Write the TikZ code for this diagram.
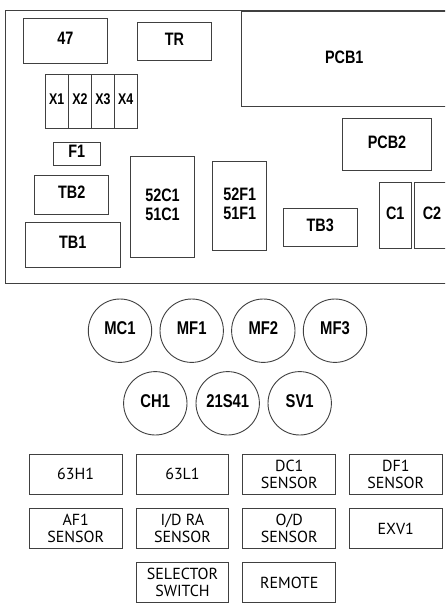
\documentclass[tikz,border=0pt]{standalone}
\usepackage{fontspec}
\newfontfamily\lsbold{Liberation Sans Bold}
\newfontfamily\ptsans{PT Sans}
\newcommand\bt[2][18]{\scalebox{0.8}[1]{\lsbold\fontsize{#1}{19}\selectfont\begin{tabular}{@{}c@{}}#2\end{tabular}}}
\begin{document}
\begin{tikzpicture}[x=1pt,y=-1pt,
  line/.style={draw=black!75,line width=0.9pt},
  box/.style={line,rectangle,inner sep=0pt,align=center},
  xbox/.style={box,minimum width=23,minimum height=54},
  motor/.style={line,circle,minimum size=63.4,inner sep=0pt},
  sbox/.style={line,rectangle,minimum width=92.7,minimum height=40,inner sep=0pt,align=center,font=\ptsans\fontsize{16}{16.5}\selectfont}]
\useasboundingbox (0,0) rectangle (445,608);
\clip (0,0) rectangle (445,608);
\fill[white] (0,0) rectangle (445,608);
% outer enclosure
\draw[line] (470,10) -- (5.5,10) -- (5.5,283) -- (470,283);
% top components
\node[box,minimum width=84.4,minimum height=45] (k47) at (65.5,40.8) {\bt{47}};
\node[box,minimum width=73.6,minimum height=38.4] (tr) at (174.5,41.5) {\bt{TR}};
\node[box,minimum width=205.3,minimum height=95] (pcb1) at (344.3,59.2) {\bt{PCB1}};
\node[xbox] (x1) at (56.8,101) {\bt[15.5]{X1}};
\node[xbox] (x2) at (80,101) {\bt[15.5]{X2}};
\node[xbox] (x3) at (103,101) {\bt[15.5]{X3}};
\node[xbox] (x4) at (125.8,101) {\bt[15.5]{X4}};
\node[box,minimum width=47,minimum height=22.6] (f1) at (76.8,154) {\bt{F1}};
\node[box,minimum width=74,minimum height=38.6] (tb2) at (71.7,195) {\bt{TB2}};
\node[box,minimum width=94.7,minimum height=45.4] (tb1) at (72.7,245) {\bt{TB1}};
\node[box,minimum width=63.6,minimum height=100.3] (c52) at (162.5,206.8) {\bt{52C1\\51C1}};
\node[box,minimum width=54,minimum height=89] (f52) at (239.7,205.8) {\bt{52F1\\51F1}};
\node[box,minimum width=74,minimum height=38.4] (tb3) at (320.3,227.5) {\bt{TB3}};
\node[box,minimum width=88.6,minimum height=52] (pcb2) at (387,144.3) {\bt{PCB2}};
\node[box,minimum width=32.7,minimum height=65.6] (c1) at (395.3,215.5) {\bt{C1}};
\node[box,minimum width=36,minimum height=65.6] (c2) at (432,215.5) {\bt{C2}};
% motors
\node[motor] (mc1) at (120,330.7) {\bt[18.5]{MC1}};
\node[motor] (mf1) at (191.7,330.7) {\bt[18.5]{MF1}};
\node[motor] (mf2) at (263.3,330.7) {\bt[18.5]{MF2}};
\node[motor] (mf3) at (335,330.7) {\bt[18.5]{MF3}};
\node[motor] (ch1) at (155.3,403.3) {\bt[18.5]{CH1}};
\node[motor] (s21) at (227.7,403.3) {\bt[18.5]{21S41}};
\node[motor] (sv1) at (299.7,403.3) {\bt[18.5]{SV1}};
% sensors
\node[sbox] (h63) at (75.7,474.3) {63H1};
\node[sbox] (l63) at (182.5,474.3) {63L1};
\node[sbox] (dc1) at (289.2,474.3) {DC1\\SENSOR};
\node[sbox] (df1) at (395.8,474.3) {DF1\\SENSOR};
\node[sbox] (af1) at (75.7,528.5) {AF1\\SENSOR};
\node[sbox] (idra) at (182.5,528.5) {I/D RA\\SENSOR};
\node[sbox] (od) at (289.2,528.5) {O/D\\SENSOR};
\node[sbox] (exv) at (395.8,528.5) {EXV1};
\node[sbox] (sel) at (182.5,582.5) {SELECTOR\\SWITCH};
\node[sbox] (rem) at (289.2,582.5) {REMOTE};
\end{tikzpicture}
\end{document}
